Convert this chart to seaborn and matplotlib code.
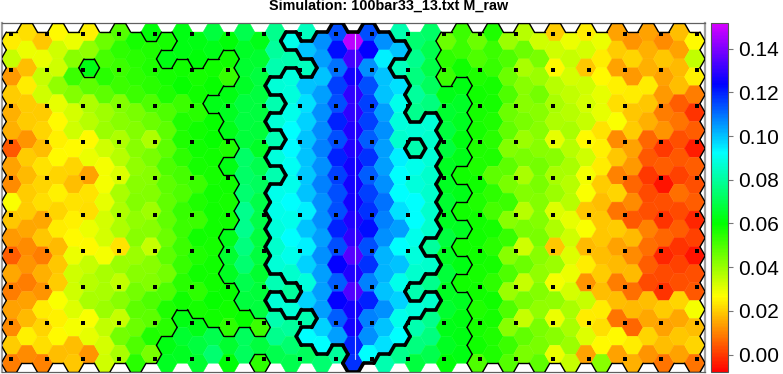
#!/usr/bin/env python3
import numpy as np
import pandas as pd
import matplotlib
matplotlib.use("Agg")
import matplotlib.pyplot as plt
import seaborn as sns
from matplotlib.collections import LineCollection
from matplotlib.colors import LinearSegmentedColormap, Normalize
from matplotlib.cm import ScalarMappable
from matplotlib.markers import MarkerStyle
from matplotlib.path import Path

W, H = 783, 374

TITLE = "Simulation: 100bar33_13.txt M_raw"
CBAR_TICKS = [0.00, 0.02, 0.04, 0.06, 0.08, 0.10, 0.12, 0.14]
VMIN, VMAX = -0.008, 0.152
LEVEL_THIN = 0.060
LEVEL_THICK = 0.085

# Cell values (x 0.001), one list per hex column, top row first
col_00 = [24, 34, 13, 20, 16, 16, 4, 14, 11, 27, 19, 13, 5, 15, 9, 14, 11, 20, 9]
col_01 = [22, 29, 18, 24, 20, 20, 12, 20, 17, 20, 20, 15, 11, 12, 9, 14, 17, 25, 11]
col_02 = [19, 29, 34, 33, 20, 21, 18, 23, 21, 22, 15, 19, 9, 16, 12, 24, 21, 22, 10]
col_03 = [26, 33, 33, 41, 30, 26, 25, 26, 21, 25, 21, 24, 17, 19, 20, 27, 25, 26, 18]
col_04 = [29, 42, 52, 43, 32, 33, 26, 21, 18, 23, 25, 26, 29, 33, 33, 31, 28, 18, 19]
col_05 = [25, 41, 62, 48, 37, 36, 26, 29, 14, 23, 22, 29, 26, 34, 36, 38, 27, 30, 12]
col_06 = [46, 51, 55, 48, 39, 40, 33, 28, 28, 30, 32, 32, 28, 38, 38, 40, 35, 32, 33]
col_07 = [49, 54, 52, 52, 43, 42, 37, 36, 31, 38, 37, 37, 23, 40, 35, 42, 34, 45, 38]
col_08 = [57, 55, 54, 52, 44, 43, 42, 41, 42, 43, 41, 42, 40, 42, 45, 48, 46, 50, 55]
col_09 = [61, 56, 56, 55, 50, 46, 37, 44, 42, 43, 39, 42, 34, 42, 43, 50, 48, 56, 44]
col_10 = [57, 62, 57, 56, 50, 48, 48, 50, 48, 47, 47, 46, 48, 45, 50, 56, 55, 62, 64]
col_11 = [62, 62, 58, 59, 52, 56, 56, 54, 51, 50, 53, 52, 52, 53, 55, 58, 62, 66, 64]
col_12 = [62, 61, 57, 58, 55, 58, 58, 57, 52, 56, 52, 58, 56, 58, 54, 57, 63, 68, 66]
col_13 = [68, 63, 58, 59, 63, 59, 59, 58, 57, 58, 58, 58, 57, 58, 58, 59, 58, 70, 74]
col_14 = [61, 58, 53, 62, 64, 63, 56, 62, 58, 57, 58, 63, 66, 64, 59, 58, 54, 66, 61]
col_15 = [70, 65, 66, 65, 68, 68, 67, 73, 73, 74, 78, 78, 76, 74, 70, 68, 59, 72, 72]
col_16 = [63, 66, 68, 68, 68, 67, 65, 70, 72, 69, 69, 68, 68, 66, 67, 68, 52, 68, 54]
col_17 = [78, 80, 82, 87, 82, 87, 83, 88, 82, 90, 90, 88, 86, 87, 83, 87, 82, 78, 70]
col_18 = [90, 82, 88, 88, 90, 92, 93, 91, 90, 92, 90, 92, 90, 86, 80, 87, 80, 74, 70]
col_19 = [84, 100, 84, 100, 96, 98, 100, 100, 99, 100, 94, 100, 94, 98, 88, 98, 82, 92, 72]
col_20 = [106, 104, 100, 104, 106, 107, 108, 106, 108, 106, 106, 104, 106, 104, 104, 104, 98, 92, 74]
col_21 = [114, 122, 110, 116, 114, 120, 114, 120, 116, 114, 114, 120, 114, 124, 112, 124, 112, 104, 80]
col_22 = [148, 132, 126, 130, 130, 128, 128, 126, 126, 126, 128, 130, 135, 128, 134, 126, 126, 120, 118]
col_23 = [114, 124, 106, 114, 116, 116, 112, 118, 112, 116, 118, 122, 114, 118, 108, 120, 108, 106, 92]
col_24 = [106, 94, 100, 100, 104, 106, 104, 104, 106, 110, 108, 106, 102, 102, 100, 106, 100, 96, 82]
col_25 = [82, 100, 84, 96, 90, 88, 86, 94, 92, 92, 96, 104, 92, 100, 90, 98, 90, 92, 78]
col_26 = [74, 78, 76, 80, 78, 87, 82, 90, 88, 92, 92, 90, 88, 86, 82, 88, 82, 76, 68]
col_27 = [73, 70, 69, 72, 76, 87, 86, 87, 86, 86, 86, 86, 80, 86, 78, 86, 78, 76, 70]
col_28 = [46, 54, 52, 63, 66, 68, 68, 64, 64, 66, 64, 68, 64, 67, 64, 66, 63, 64, 61]
col_29 = [52, 52, 58, 62, 65, 64, 62, 63, 58, 63, 58, 64, 58, 62, 58, 64, 62, 62, 62]
col_30 = [46, 50, 56, 58, 57, 57, 56, 56, 58, 56, 58, 58, 58, 57, 58, 56, 57, 58, 50]
col_31 = [56, 52, 53, 57, 57, 56, 55, 56, 48, 54, 51, 57, 55, 57, 54, 58, 57, 56, 56]
col_32 = [40, 50, 46, 50, 46, 47, 43, 48, 44, 52, 42, 53, 42, 50, 40, 50, 42, 52, 49]
col_33 = [36, 46, 38, 42, 42, 44, 40, 44, 38, 43, 36, 44, 33, 46, 34, 44, 34, 47, 44]
col_34 = [33, 44, 40, 45, 42, 42, 42, 45, 44, 43, 43, 44, 42, 41, 43, 41, 44, 44, 48]
col_35 = [20, 33, 26, 36, 38, 37, 30, 42, 38, 40, 31, 37, 19, 40, 28, 41, 29, 42, 29]
col_36 = [29, 34, 32, 35, 36, 38, 36, 38, 36, 36, 30, 33, 31, 29, 32, 38, 38, 40, 34]
col_37 = [24, 32, 19, 33, 32, 34, 26, 33, 28, 27, 19, 27, 17, 24, 12, 34, 24, 31, 14]
col_38 = [29, 24, 26, 30, 30, 23, 25, 24, 20, 18, 19, 19, 18, 20, 18, 24, 22, 26, 42]
col_39 = [14, 20, 14, 25, 22, 27, 11, 19, 10, 21, 8, 20, 14, 17, 9, 18, 8, 26, 14]
col_40 = [12, 21, 13, 24, 19, 20, 14, 13, 6, 11, 4, 17, 11, 17, 7, 17, 6, 24, 16]
col_41 = [14, 16, 16, 24, 19, 16, 6, 4, 0, 2, 3, 10, 7, 5, 2, 18, 15, 21, 12]
col_42 = [11, 19, 14, 13, 9, 12, 0, 5, -5, 3, -1, 6, -3, 2, -1, 20, 14, 18, 8]
col_43 = [18, 14, 17, 18, 5, 8, 3, 4, 1, 7, 2, 5, -1, 1, 3, 21, 15, 19, 14]
col_44 = [26, 35, 25, 9, -1, 5, -4, 5, 3, 5, -3, 1, -5, 3, 4, 28, 18, 21, 8]

columns = [
    col_00, col_01, col_02, col_03, col_04, col_05, col_06, col_07, col_08, col_09,
    col_10, col_11, col_12, col_13, col_14, col_15, col_16, col_17, col_18, col_19,
    col_20, col_21, col_22, col_23, col_24, col_25, col_26, col_27, col_28, col_29,
    col_30, col_31, col_32, col_33, col_34, col_35, col_36, col_37, col_38, col_39,
    col_40, col_41, col_42, col_43, col_44,
]

sns.set_theme(style="white")
plt.rcParams["font.family"] = ["Liberation Sans", "DejaVu Sans"]

# Rainbow used by the colour bar
cmap = LinearSegmentedColormap.from_list("sim_rainbow", [
    (0.0, "#ff0000"), (0.2156, "#ffff00"), (0.425, "#00ff00"),
    (0.628, "#00ffff"), (0.825, "#0000ff"), (1.0, "#d900ff"),
], N=256)

# Long table: odd columns sit half a row higher
rows = []
for c, col in enumerate(columns):
    for j, v in enumerate(col):
        rows.append({"col": c, "row": j - 0.5 * (c % 2), "value": v / 1000})
df = pd.DataFrame(rows)

fig = plt.figure(figsize=(W / 100, H / 100), dpi=100)
ax = fig.add_axes([2 / W, 1 - 372 / H, 703 / W, 349 / H])

hex_marker = MarkerStyle(Path([(-1, 0), (-0.5, -0.866), (0.5, -0.866), (1, 0),
                               (0.5, 0.866), (-0.5, 0.866), (-1, 0)], closed=True))
sns.scatterplot(data=df, x="col", y="row", hue="value", palette=cmap, hue_norm=(VMIN, VMAX),
                marker=hex_marker, s=222, edgecolor="face", linewidth=0.3, legend=False, ax=ax)

# Contours follow the hex edges
lookup = {(r.col, r.row): r.value for r in df.itertuples()}
steps = [
    ((0, -1), (-1 / 3, -0.5), (1 / 3, -0.5)), ((0, 1), (-1 / 3, 0.5), (1 / 3, 0.5)),
    ((1, -0.5), (1 / 3, -0.5), (2 / 3, 0)), ((1, 0.5), (2 / 3, 0), (1 / 3, 0.5)),
    ((-1, -0.5), (-1 / 3, -0.5), (-2 / 3, 0)), ((-1, 0.5), (-2 / 3, 0), (-1 / 3, 0.5)),
]
thin_segs, thick_segs = [], []
for (c, r), v in lookup.items():
    for (dc, dr), p, q in steps:
        other = lookup.get((c + dc, r + dr))
        a, b = (c + p[0], r + p[1]), (c + q[0], r + q[1])
        if v < LEVEL_THIN and (other is None or other >= LEVEL_THIN):
            thin_segs.append([a, b])
        if v >= LEVEL_THICK and (other is None or other < LEVEL_THICK):
            thick_segs.append([a, b])
ax.add_collection(LineCollection(thin_segs, colors="black", linewidths=1.0, capstyle="round", zorder=3))
ax.add_collection(LineCollection(thick_segs, colors="black", linewidths=2.6, capstyle="round", zorder=3))

# Probe grid, 20 x 10 squares
px, py = 36.1 / 15.53, 36.1 / 17.9
probes = pd.DataFrame([{"x": -0.03 + i * px, "y": -0.39 + k * py} for i in range(20) for k in range(10)])
sns.scatterplot(data=probes, x="x", y="y", marker="s", s=11, color="black", linewidth=0, legend=False, zorder=4, ax=ax)

ax.plot([22.09, 22.09], [-0.41, 17.76], color="#d8d8fa", lw=0.8, zorder=5)

ax.set_xlim((2 - 11.5) / 15.53, (705 - 11.5) / 15.53)
ax.set_ylim((372 - 41) / 17.9, (23 - 41) / 17.9)
ax.set_xticks([]); ax.set_yticks([])
ax.set_xlabel(""); ax.set_ylabel("")
for side in ["left", "right"]:
    ax.spines[side].set(color="#a0a0a0", linewidth=1.6, visible=True)
for side in ["top", "bottom"]:
    ax.spines[side].set(color="#606060", linewidth=0.9, visible=True)

# Colour bar
cax = fig.add_axes([711 / W, 1 - 372 / H, 17 / W, 349.5 / H])
cb = fig.colorbar(ScalarMappable(Normalize(VMIN, VMAX), cmap), cax=cax)
cb.set_ticks(CBAR_TICKS)
cb.set_ticklabels([f"{t:.2f}" for t in CBAR_TICKS])
cb.ax.tick_params(length=3.6, width=0.8, color="#777777", pad=3.5, labelsize=15, labelcolor="black")
cb.outline.set_edgecolor("#555555"); cb.outline.set_linewidth(0.8)

fig.text(389 / W, 1 - 5.5 / H, TITLE, ha="center", va="center", fontsize=10.4, fontweight="bold", color="black")

fig.savefig("out.png", dpi=100, facecolor="white")
